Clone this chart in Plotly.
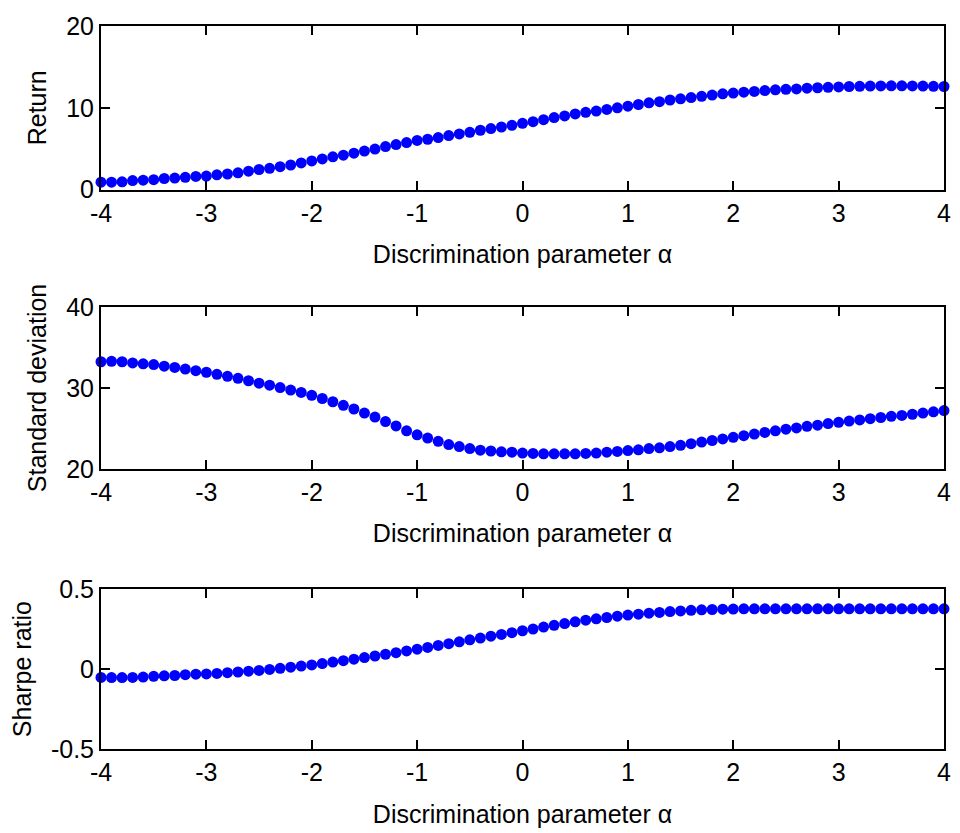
import plotly.graph_objects as go

# Discrimination parameter alpha, -4 .. 4 in steps of 0.1
alpha = [round(-4 + 0.1 * i, 1) for i in range(81)]

ret = [0.9, 0.9, 0.95, 1.1, 1.15, 1.2, 1.35, 1.4, 1.5, 1.6,
       1.65, 1.8, 1.9, 2.05, 2.25, 2.45, 2.6, 2.8, 3.0, 3.25,
       3.5, 3.75, 4.0, 4.2, 4.45, 4.7, 4.95, 5.25, 5.5, 5.75,
       6.0, 6.15, 6.35, 6.6, 6.8, 7.0, 7.25, 7.45, 7.65, 7.85,
       8.1, 8.3, 8.55, 8.8, 9.0, 9.25, 9.45, 9.6, 9.8, 10.0,
       10.2, 10.4, 10.6, 10.75, 10.95, 11.1, 11.25, 11.4, 11.55, 11.7,
       11.8, 11.9, 12.0, 12.1, 12.2, 12.25, 12.3, 12.4, 12.45, 12.5,
       12.55, 12.6, 12.62, 12.65, 12.67, 12.68, 12.68, 12.67, 12.65, 12.63,
       12.6]

std = [33.25, 33.3, 33.25, 33.1, 33.0, 32.9, 32.7, 32.55, 32.35, 32.15,
       31.95, 31.7, 31.45, 31.2, 30.9, 30.6, 30.35, 30.05, 29.75, 29.45,
       29.1, 28.7, 28.3, 27.85, 27.4, 26.9, 26.4, 25.85, 25.3, 24.7,
       24.2, 23.8, 23.4, 23.0, 22.75, 22.5, 22.3, 22.2, 22.1, 22.05,
       21.95, 21.9, 21.85, 21.85, 21.85, 21.85, 21.9, 21.95, 22.05, 22.15,
       22.25, 22.35, 22.5, 22.6, 22.75, 22.9, 23.1, 23.3, 23.5, 23.7,
       23.9, 24.1, 24.3, 24.5, 24.7, 24.9, 25.05, 25.25, 25.4, 25.6,
       25.75, 25.9, 26.05, 26.2, 26.35, 26.5, 26.6, 26.75, 26.9, 27.05,
       27.2]

sharpe = [-0.052, -0.053, -0.053, -0.052, -0.05, -0.045, -0.042, -0.04, -0.035, -0.032,
          -0.03, -0.027, -0.022, -0.018, -0.013, -0.008, -0.002, 0.005, 0.012, 0.019,
          0.026, 0.035, 0.044, 0.053, 0.062, 0.072, 0.082, 0.093, 0.103, 0.114,
          0.125, 0.136, 0.148, 0.159, 0.171, 0.183, 0.194, 0.206, 0.217, 0.228,
          0.24, 0.251, 0.263, 0.274, 0.285, 0.296, 0.306, 0.315, 0.323, 0.331,
          0.338, 0.344, 0.35, 0.355, 0.36, 0.364, 0.368, 0.371, 0.373, 0.375,
          0.376, 0.377, 0.377, 0.377, 0.377, 0.377, 0.377, 0.377, 0.377, 0.377,
          0.377, 0.377, 0.377, 0.377, 0.377, 0.377, 0.377, 0.377, 0.377, 0.377,
          0.377]

x_ticks = [-4, -3, -2, -1, 0, 1, 2, 3, 4]
panels = [
    ("Return", ret, [0, 20], [0, 10, 20], [0.7738, 1.0]),
    ("Standard deviation", std, [20, 40], [20, 30, 40], [0.3876, 0.6110]),
    ("Sharpe ratio", sharpe, [-0.5, 0.5], [-0.5, 0, 0.5], [0.0, 0.2210]),
]
x_title = "Discrimination parameter \u03b1"

FONT = "Liberation Sans, Arial, sans-serif"
FS = 25
fig = go.Figure()
layout = {}
for i, (name, vals, yr, yt, dom) in enumerate(panels, start=1):
    sfx = "" if i == 1 else str(i)
    fig.add_trace(go.Scatter(
        x=alpha, y=vals, mode="markers",
        marker=dict(color="#0000ff", size=11, line=dict(width=0)),
        xaxis="x" + sfx, yaxis="y" + sfx, showlegend=False, cliponaxis=False,
    ))
    axis_common = dict(
        showline=True, linecolor="black", linewidth=2, mirror="ticks",
        ticks="inside", ticklen=9, tickwidth=2, tickcolor="black",
        showgrid=False, zeroline=False,
        tickfont=dict(family=FONT, size=FS, color="black"),
    )
    layout["xaxis" + sfx] = dict(
        axis_common, range=[-4, 4], tickvals=x_ticks,
        ticktext=[str(t) for t in x_ticks],
        anchor="y" + sfx, domain=[0, 1],
        title=dict(text=x_title, font=dict(family=FONT, size=FS, color="black"), standoff=20),
    )
    layout["yaxis" + sfx] = dict(
        axis_common, range=yr, tickvals=yt,
        ticktext=[("%g" % t) for t in yt],
        anchor="x" + sfx, domain=dom,
        title=dict(text=name, font=dict(family=FONT, size=FS, color="black"), standoff=12),
    )

fig.update_layout(
    width=960, height=833,
    margin=dict(l=101, r=9, t=26, b=82),
    paper_bgcolor="white", plot_bgcolor="white",
    font=dict(family=FONT, color="black"),
    **layout,
)

fig.write_html("out.html")
